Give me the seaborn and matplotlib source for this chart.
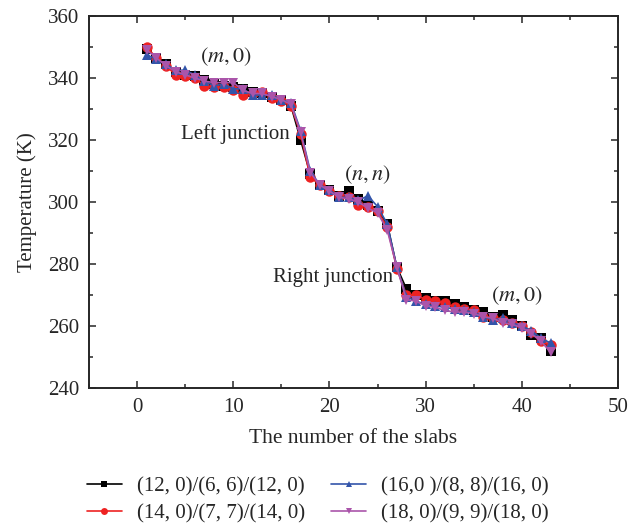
import numpy as np
import pandas as pd
import matplotlib
matplotlib.use("Agg")
import matplotlib.pyplot as plt
import seaborn as sns
from matplotlib.ticker import MultipleLocator

slabs = list(range(1, 44))
t_12 = [349.5, 346.5, 344.5, 342, 341, 340.5, 339.5, 338, 337.5, 337, 336.5, 335.5, 335, 334, 333, 331,
        320, 309, 305.5, 304, 302, 303.5, 301, 299, 297, 293, 279, 272, 270, 269, 268, 268, 267, 266,
        265, 264.5, 263, 263.5, 262, 260, 257, 256, 252]
t_14 = [350, 346.5, 344, 341, 340.5, 340, 337.5, 337, 337, 336, 334.5, 335, 335.5, 333.5, 332.5, 331,
        322, 308, 305.5, 303.5, 302, 301.5, 299, 298.5, 297, 292, 278.5, 270, 270, 268.5, 268, 267.5,
        266, 265.5, 265, 263, 262.5, 262, 261, 260, 258, 255, 254]
t_16 = [347.5, 346, 344.5, 342.5, 342.5, 341, 339, 337.5, 338, 336.5, 336.5, 334.5, 334.5, 334.5, 333,
        332, 323, 310, 305.5, 304, 301.5, 301.5, 300.5, 302, 298.5, 293, 279, 269.5, 268, 267, 266.5,
        266, 265.5, 265, 264.5, 263, 262, 262.5, 261, 260, 258.5, 256, 254.5]
t_18 = [349, 346.5, 344, 342, 341, 340, 339, 338.5, 338.5, 338.5, 336, 335, 335, 334, 333, 331.5,
        322.5, 309.5, 305.5, 303.5, 301.5, 301, 300, 298, 296.5, 291, 279, 268.5, 268, 266.5, 266, 265,
        264.5, 264.5, 264, 263, 262.5, 261, 260.5, 259.5, 257.5, 255, 251.5]
labels = ["(12, 0)/(6, 6)/(12, 0)", "(14, 0)/(7, 7)/(14, 0)",
          "(16,0 )/(8, 8)/(16, 0)", "(18, 0)/(9, 9)/(18, 0)"]
series = [t_12, t_14, t_16, t_18]

rows = []
for lab, vals in zip(labels, series):
    for x, y in zip(slabs, vals):
        rows.append({"slab": x, "T": y, "series": lab})
df = pd.DataFrame(rows)

sns.set_style("ticks")
plt.rcParams["font.family"] = ["Liberation Serif", "DejaVu Serif"]
plt.rcParams["mathtext.fontset"] = "stix"

fig = plt.figure(figsize=(6.38, 5.26), dpi=100)
ax = fig.add_axes([0.1395, 0.2624, 0.8292, 0.7072])

palette = dict(zip(labels, ["#000000", "#ee2222", "#3355aa", "#aa55aa"]))
markers = dict(zip(labels, ["s", "o", "^", "v"]))
sns.lineplot(data=df, x="slab", y="T", hue="series", style="series", palette=palette,
             markers=markers, dashes=False, markersize=7.5, markeredgewidth=0,
             linewidth=1.2, ax=ax, legend=True)

ax.set_xlim(-5, 50)
ax.set_ylim(240, 360)
ax.xaxis.set_major_locator(MultipleLocator(10))
ax.xaxis.set_minor_locator(MultipleLocator(5))
ax.yaxis.set_major_locator(MultipleLocator(20))
ax.yaxis.set_minor_locator(MultipleLocator(10))
ax.tick_params(which="both", direction="in", top=True, right=True, labelsize=15, width=1.1)
ax.tick_params(which="major", length=5, pad=7)
ax.tick_params(which="minor", length=3)
for s in ax.spines.values():
    s.set_linewidth(1.4)
ax.set_xlabel("The number of the slabs", fontsize=15.5, labelpad=9)
ax.set_ylabel("Temperature (K)", fontsize=15, labelpad=8)

ax.text(9.2, 346.8, r"$(m,0)$", fontsize=16, ha="center", va="center")
ax.text(10.2, 322, "Left junction", fontsize=15, ha="center", va="center")
ax.text(23.9, 308.7, r"$(n,n)$", fontsize=16, ha="center", va="center")
ax.text(20.4, 275.8, "Right junction", fontsize=15, ha="center", va="center")
ax.text(39.5, 269.7, r"$(m,0)$", fontsize=16, ha="center", va="center")

handles, labs = ax.get_legend_handles_labels()
ax.get_legend().remove()
for h in handles:
    h.set_markersize(5)
    h.set_linewidth(1.2)
fig.legend(handles, labs, loc="upper left", bbox_to_anchor=(0.136, 0.094), ncol=2,
           frameon=False, fontsize=15, handlelength=1.7, handletextpad=0.7,
           columnspacing=1.25, labelspacing=0.38, borderpad=0, borderaxespad=0)

fig.savefig("out.png", dpi=100)
